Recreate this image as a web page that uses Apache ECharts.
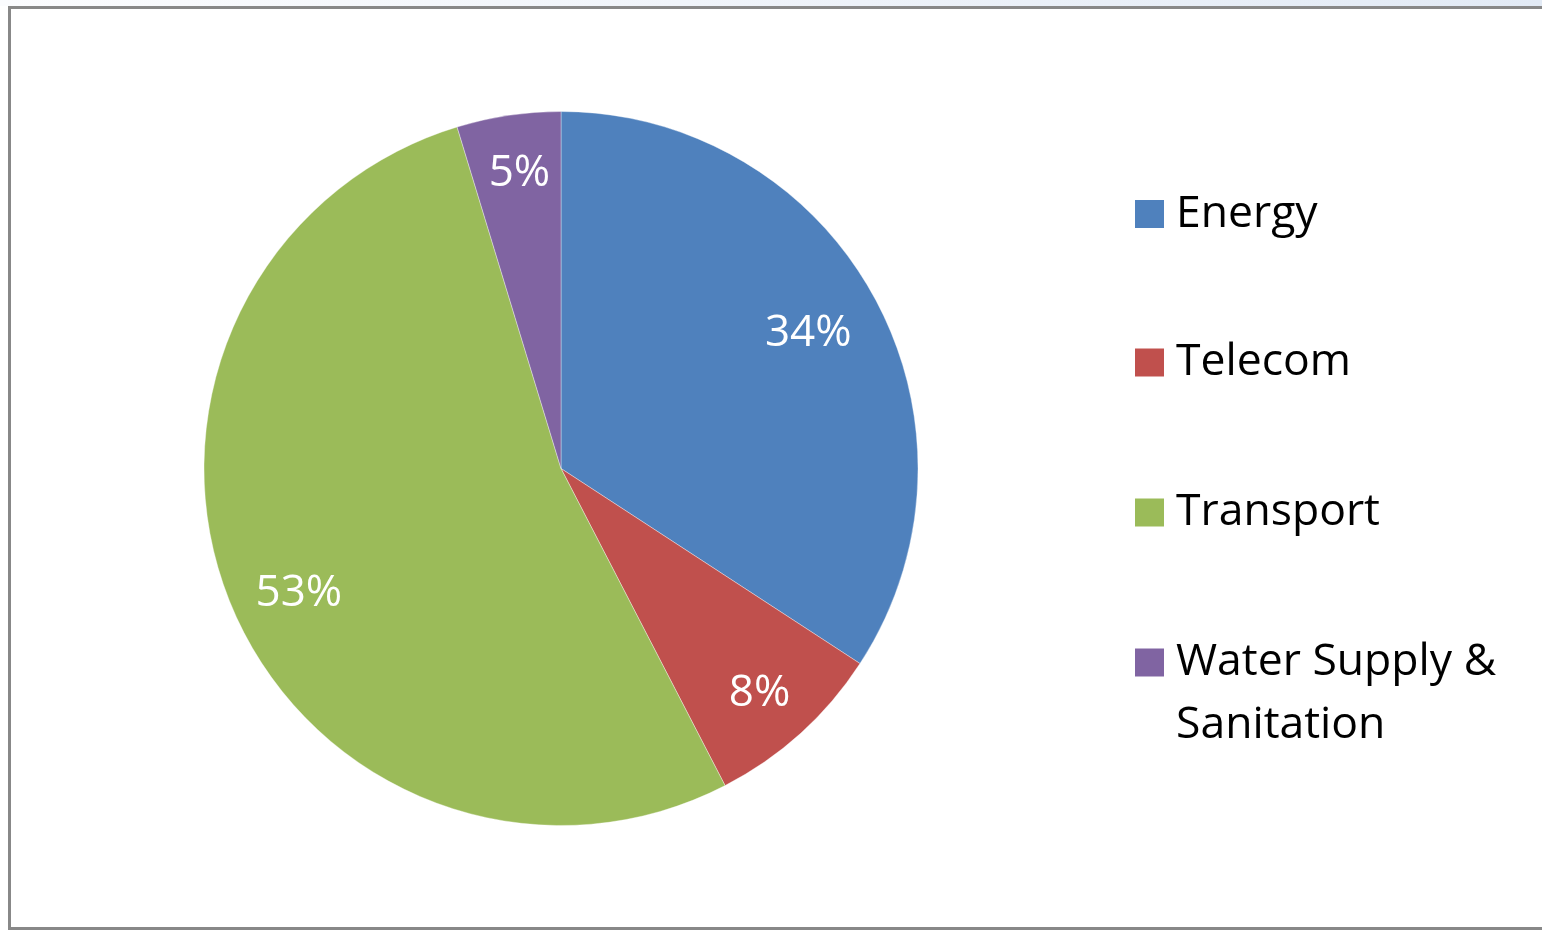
<!DOCTYPE html>
<html>
<head>
<meta charset="utf-8">
<script src="https://cdn.jsdelivr.net/npm/echarts@6/dist/echarts.min.js"></script>
<style>
html,body{margin:0;padding:0;background:#fff;}
#chart{width:1542px;height:930px;}
</style>
</head>
<body>
<div id="chart"></div>
<script>
// Data
const categories = ['Energy', 'Telecom', 'Transport', 'Water Supply & Sanitation'];
const shares = [34.2, 8.2, 52.9, 4.7];
const colors = ['#4F81BD', '#C0504D', '#9BBB59', '#8064A2'];
const legendLabels = ['Energy', 'Telecom', 'Transport', '\nWater Supply &\nSanitation'];

// layout tweaks for data labels (Excel best-fit placement)
const labelOffsets = [[-13, 6], [0, 5], [12, 13], [2, -2]];

const chart = echarts.init(document.getElementById('chart'), null, {renderer: 'canvas'});

const FONT = '"Open Sans", "Noto Sans", sans-serif';
const pieCenter = [561, 468.5];
const pieR = 357;
const legendCenters = [214, 362.5, 512.5, 662.5];
const LH = 63;

const pieData = categories.map((c, i) => ({name: c, value: shares[i], itemStyle: {color: colors[i]}}));
const labelData = categories.map((c, i) => ({name: c, value: shares[i], label: {offset: labelOffsets[i]}}));

const legends = categories.map((c, i) => {
  const lines = legendLabels[i].split('\n').length;
  return {
    data: [c],
    orient: 'vertical',
    left: 1135,
    top: legendCenters[i] - (lines * LH) / 2,
    padding: 0,
    icon: 'rect',
    itemWidth: 29,
    itemHeight: 28,
    selectedMode: false,
    itemStyle: {borderWidth: 0},
    formatter: () => legendLabels[i],
    textStyle: {
      fontFamily: FONT,
      fontSize: 44.5,
      color: '#000',
      lineHeight: LH,
      padding: [0, 0, 0, 7]
    }
  };
});

chart.setOption({
  backgroundColor: '#ffffff',
  animation: false,
  graphic: [
    {
      type: 'rect',
      shape: {x: 0, y: 0, width: 1542, height: 6},
      style: {
        fill: new echarts.graphic.LinearGradient(0, 0, 1, 0, [
          {offset: 0, color: '#fbfcfe'},
          {offset: 1, color: '#e2eaf5'}
        ])
      },
      silent: true,
      z: -10
    },
    {
      type: 'rect',
      shape: {x: 9.5, y: 7.5, width: 1620, height: 921},
      style: {fill: 'none', stroke: '#888888', lineWidth: 3},
      silent: true,
      z: -5
    }
  ],
  legend: legends,
  series: [
    {
      type: 'pie',
      center: pieCenter,
      radius: [0, pieR],
      startAngle: 90,
      clockwise: true,
      percentPrecision: 0,
      label: {show: false},
      labelLine: {show: false},
      itemStyle: {borderColor: 'rgba(255,255,255,0.6)', borderWidth: 0.6},
      emphasis: {disabled: true},
      data: pieData
    },
    {
      type: 'pie',
      center: pieCenter,
      radius: [229, pieR],
      startAngle: 90,
      clockwise: true,
      percentPrecision: 0,
      silent: true,
      itemStyle: {color: 'rgba(0,0,0,0)', borderWidth: 0},
      emphasis: {disabled: true},
      label: {
        show: true,
        position: 'inside',
        formatter: '{d}%',
        color: '#ffffff',
        fontFamily: FONT,
        fontSize: 44,
        textBorderWidth: 0
      },
      labelLine: {show: false},
      data: labelData
    }
  ]
});
</script>
</body>
</html>
